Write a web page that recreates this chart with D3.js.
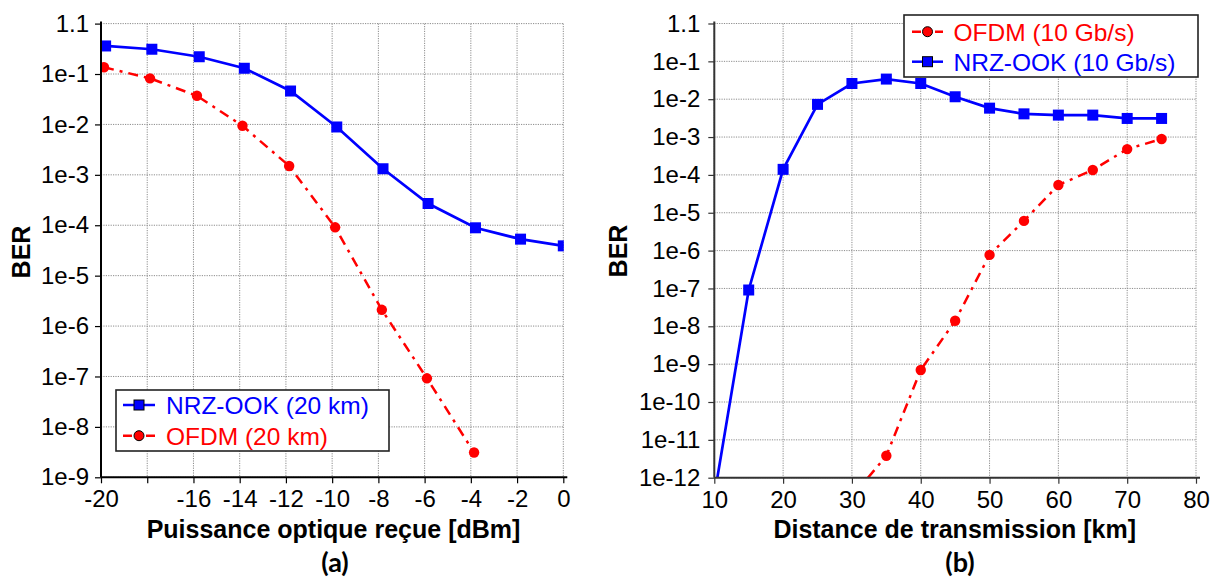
<!DOCTYPE html>
<html><head><meta charset="utf-8">
<script src="https://cdn.jsdelivr.net/npm/d3@7"></script>
<style>body{margin:0;background:#fff} svg{display:block}</style>
</head><body><svg id="c" width="1212" height="585"></svg>
<script>
// ---------- data: panel (a) ----------
const powerNrzA = [-19.8,-17.8,-15.75,-13.8,-11.8,-9.8,-7.8,-5.85,-3.8,-1.85,0];
const berNrzA   = [0.36,0.31,0.22,0.13,0.046,0.0089,1.32e-3,2.7e-4,8.9e-5,5.3e-5,3.9e-5];
const powerOfdmA = [-19.87,-17.88,-15.85,-13.88,-11.86,-9.87,-7.85,-5.9,-3.86];
const berOfdmA   = [0.136,0.082,0.037,9.4e-3,1.5e-3,9.1e-5,2.1e-6,9.2e-8,3.1e-9];
const xTicksA = [-20,-18,-16,-14,-12,-10,-8,-6,-4,-2,0];
const xTickLabelsA = ["-20","","-16","-14","-12","-10","-8","-6","-4","-2","0"];
const yTicksA = [1,1e-1,1e-2,1e-3,1e-4,1e-5,1e-6,1e-7,1e-8,1e-9];
const yTickLabelsA = ["1.1","1e-1","1e-2","1e-3","1e-4","1e-5","1e-6","1e-7","1e-8","1e-9"];
const legendA = ["NRZ-OOK (20 km)","OFDM (20 km)"];
const xTitleA = "Puissance optique reçue [dBm]";

// ---------- data: panel (b) ----------
const distNrzB = [10,15,20,25,30,35,40,45,50,55,60,65,70,75];
const berNrzB  = [3.3e-13,9.1e-8,1.4e-4,7.3e-3,0.026,0.034,0.026,0.0116,5.8e-3,4.1e-3,3.8e-3,3.8e-3,3.1e-3,3.1e-3];
const distOfdmB = [30,35,40,45,50,55,60,65,70,75];
const berOfdmB  = [3.1e-13,3.8e-12,7e-10,1.4e-8,7.7e-7,6.1e-6,5.4e-5,1.35e-4,4.8e-4,8.9e-4];
const xTicksB = [10,20,30,40,50,60,70,80];
const xTickLabelsB = ["10","20","30","40","50","60","70","80"];
const yTicksB = [1,1e-1,1e-2,1e-3,1e-4,1e-5,1e-6,1e-7,1e-8,1e-9,1e-10,1e-11,1e-12];
const yTickLabelsB = ["1.1","1e-1","1e-2","1e-3","1e-4","1e-5","1e-6","1e-7","1e-8","1e-9","1e-10","1e-11","1e-12"];
const legendB = ["OFDM (10 Gb/s)","NRZ-OOK (10 Gb/s)"];
const xTitleB = "Distance de transmission [km]";
const yTitle = "BER";
const panelLabels = ["(a)","(b)"];

const BLUE = "#0000ff", RED = "#ff0000";
const FONT = "'Liberation Sans', Arial, sans-serif";
const svg = d3.select("#c");

function panel(cfg){
  const g = svg.append("g");
  const x = d3.scaleLinear().domain(cfg.xDomain).range(cfg.xRange);
  const y = d3.scaleLog().domain(cfg.yDomain).range(cfg.yRange);
  const [x0,x1] = cfg.xRange, [y0,y1] = cfg.yRange; // y0 bottom, y1 top

  // grid
  const grid = g.append("g").attr("stroke","#8c8c8c").attr("stroke-width",1).attr("stroke-dasharray","1.2,1.2");
  grid.selectAll("line.h").data(cfg.yTicks).join("line")
    .attr("x1",x0).attr("x2",x1).attr("y1",d=>y(d)).attr("y2",d=>y(d));
  grid.selectAll("line.v").data(cfg.xTicks).join("line")
    .attr("x1",d=>x(d)).attr("x2",d=>x(d)).attr("y1",y1).attr("y2",y0);

  // clip
  const cid = "clip"+cfg.id;
  svg.append("defs").append("clipPath").attr("id",cid).append("rect")
    .attr("x",x0).attr("y",0).attr("width",x1-x0+0.5).attr("height",y0);
  const plot = g.append("g").attr("clip-path",`url(#${cid})`);

  cfg.series.forEach(s=>{
    const pts = s.xs.map((v,i)=>[v,s.ys[i]]);
    plot.append("path").datum(pts)
      .attr("fill","none").attr("stroke",s.color).attr("stroke-width",s.width)
      .attr("stroke-dasharray",s.dash||null)
      .attr("d",d3.line().x(d=>x(d[0])).y(d=>y(d[1])));
    if(s.marker==="square"){
      plot.selectAll(null).data(pts).join("rect")
        .attr("x",d=>x(d[0])-5.5).attr("y",d=>y(d[1])-5.5).attr("width",11).attr("height",11)
        .attr("fill",s.color);
    } else {
      plot.selectAll(null).data(pts).join("circle")
        .attr("cx",d=>x(d[0])).attr("cy",d=>y(d[1])).attr("r",5.2).attr("fill",s.color);
    }
  });

  // axes
  const ax = g.append("g").attr("transform",`translate(0,${y0})`)
    .call(d3.axisBottom(x).tickValues(cfg.xTicks).tickFormat((d,i)=>cfg.xLabels[i]).tickSize(6).tickSizeOuter(0).tickPadding(7));
  const ay = g.append("g").attr("transform",`translate(${x0},0)`)
    .call(d3.axisLeft(y).tickValues(cfg.yTicks).tickFormat((d,i)=>cfg.yLabels[i]).tickSize(6).tickSizeOuter(0).tickPadding(cfg.yPad));
  [ax,ay].forEach(a=>{
    a.select(".domain").attr("stroke",cfg.axisColor).attr("stroke-width",2);
    a.selectAll(".tick line").attr("stroke",cfg.axisColor).attr("stroke-width",1.2);
    a.selectAll("text").attr("font-family",FONT).attr("font-size",24).attr("fill","#000");
  });
  ax.select(".domain").attr("d",`M${x0},0H${x1+4}`);
  ay.select(".domain").attr("d",`M0,${y1-2}V${y0}`);

  // titles
  g.append("text").attr("x",cfg.xTitlePos[0]).attr("y",cfg.xTitlePos[1]).attr("text-anchor","middle")
    .attr("font-family",FONT).attr("font-weight","bold").attr("font-size",25).text(cfg.xTitle);
  g.append("text").attr("transform",`translate(${cfg.yTitlePos[0]},${cfg.yTitlePos[1]}) rotate(-90)`)
    .attr("text-anchor","middle").attr("dy","0.36em")
    .attr("font-family",FONT).attr("font-weight","bold").attr("font-size",25).text(yTitle);
  g.append("text").attr("x",cfg.labelPos[0]).attr("y",cfg.labelPos[1]).attr("text-anchor","middle")
    .attr("font-family","Lato, 'Open Sans', sans-serif").attr("font-weight","bold").attr("font-size",27).text(cfg.label);

  // legend
  const L = cfg.legend;
  const lg = g.append("g");
  lg.append("rect").attr("x",L.box[0]).attr("y",L.box[1]).attr("width",L.box[2]).attr("height",L.box[3])
    .attr("fill","#fff").attr("stroke","#222").attr("stroke-width",1.6);
  L.items.forEach((it,i)=>{
    const cy = L.rowY[i];
    lg.append("line").attr("x1",L.lineX[0]).attr("x2",L.lineX[1]).attr("y1",cy).attr("y2",cy)
      .attr("stroke",it.color).attr("stroke-width",2.5).attr("stroke-dasharray",it.marker==="circle"?"9,14":null);
    const mx = (L.lineX[0]+L.lineX[1])/2;
    if(it.marker==="square"){
      lg.append("rect").attr("x",mx-5).attr("y",cy-5).attr("width",10).attr("height",10)
        .attr("fill",it.color).attr("stroke","#000").attr("stroke-width",1);
    } else {
      lg.append("circle").attr("cx",mx).attr("cy",cy).attr("r",5).attr("fill",it.color).attr("stroke","#000").attr("stroke-width",1);
    }
    lg.append("text").attr("x",L.textX).attr("y",cy).attr("dy","0.36em")
      .attr("font-family",FONT).attr("font-size",24.5).attr("fill",it.color).text(it.name);
  });
}

panel({
  id:"a", xDomain:[-20,0], xRange:[101,563.3], yDomain:[1e-9,1], yRange:[477.3,23.6],
  xTicks:xTicksA, xLabels:xTickLabelsA, yTicks:yTicksA, yLabels:yTickLabelsA, yPad:6,
  axisColor:"#000",
  series:[
    {xs:powerNrzA, ys:berNrzA, color:BLUE, width:2.7, marker:"square"},
    {xs:powerOfdmA, ys:berOfdmA, color:RED, width:2.5, marker:"circle", dash:"10,6,3,6"}
  ],
  xTitle:xTitleA, xTitlePos:[333.5,538], yTitlePos:[21,252], label:panelLabels[0], labelPos:[335,572],
  legend:{box:[116,390,273,61], rowY:[405,435.7], lineX:[123,155], textX:166,
    items:[{name:legendA[0],color:BLUE,marker:"square"},{name:legendA[1],color:RED,marker:"circle"}]}
});

panel({
  id:"b", xDomain:[10,80], xRange:[714.3,1196], yDomain:[1e-12,1], yRange:[477.7,23.5],
  xTicks:xTicksB, xLabels:xTickLabelsB, yTicks:yTicksB, yLabels:yTickLabelsB, yPad:8,
  axisColor:"#333",
  series:[
    {xs:distOfdmB, ys:berOfdmB, color:RED, width:2.5, marker:"circle", dash:"10,6,3,6"},
    {xs:distNrzB, ys:berNrzB, color:BLUE, width:2.7, marker:"square"}
  ],
  xTitle:xTitleB, xTitlePos:[954.7,538], yTitlePos:[618,251], label:panelLabels[1], labelPos:[960,572],
  legend:{box:[904,15,294,62], rowY:[31.7,61.7], lineX:[912,943], textX:953.5,
    items:[{name:legendB[0],color:RED,marker:"circle"},{name:legendB[1],color:BLUE,marker:"square"}]}
});
</script></body></html>
